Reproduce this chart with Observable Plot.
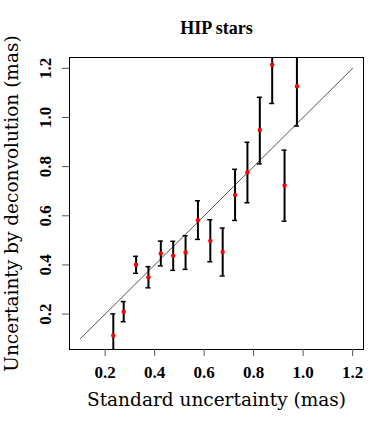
<!DOCTYPE html>
<html>
<head>
<meta charset="utf-8">
<script src="https://cdn.jsdelivr.net/npm/d3@7"></script>
<script src="https://cdn.jsdelivr.net/npm/@observablehq/plot@0.6"></script>
<style>
  html, body { margin: 0; padding: 0; background: #fff; }
  svg { display: block; }
</style>
</head>
<body>
<div id="chart"></div>
<script>
const title = "HIP stars";
const xLabel = "Standard uncertainty (mas)";
const yLabel = "Uncertainty by deconvolution (mas)";
const xTicks = [0.2, 0.4, 0.6, 0.8, 1.0, 1.2];
const yTicks = [0.2, 0.4, 0.6, 0.8, 1.0, 1.2];
const xVals = [0.233, 0.275, 0.325, 0.375, 0.425, 0.475, 0.525, 0.575, 0.625, 0.675, 0.725, 0.775, 0.825, 0.875, 0.925, 0.975];
const yVals = [0.113, 0.210, 0.401, 0.350, 0.447, 0.438, 0.451, 0.582, 0.498, 0.453, 0.685, 0.777, 0.949, 1.215, 0.723, 1.127];
const yLow  = [0.025, 0.169, 0.366, 0.307, 0.396, 0.378, 0.382, 0.504, 0.413, 0.355, 0.581, 0.653, 0.811, 1.057, 0.578, 0.965];
const yHigh = [0.201, 0.251, 0.435, 0.393, 0.497, 0.496, 0.519, 0.661, 0.584, 0.550, 0.789, 0.899, 1.082, 1.373, 0.867, 1.289];
const diagX = [0.1, 1.2];
const diagY = [0.1, 1.2];

const data = xVals.map((x, i) => ({x, y: yVals[i], lo: yLow[i], hi: yHigh[i]}));
const diag = diagX.map((x, i) => ({x, y: diagY[i]}));
const caps = data.flatMap(d => [{x: d.x, y: d.lo}, {x: d.x, y: d.hi}]);

const tickFont = "'Liberation Serif', 'Times New Roman', serif";
const labelFont = "'DejaVu Serif', serif";

const chart = Plot.plot({
  width: 377,
  height: 422,
  marginLeft: 69,
  marginRight: 14,
  marginTop: 57,
  marginBottom: 73,
  x: {domain: [0.056, 1.244]},
  y: {domain: [0.056, 1.244]},
  style: {background: "white", color: "black"},
  marks: [
    Plot.line(diag, {x: "x", y: "y", stroke: "#555", strokeWidth: 1}),
    Plot.ruleX(data, {x: "x", y1: "lo", y2: "hi", stroke: "black", strokeWidth: 2, clip: true}),
    Plot.ruleY(caps, {x1: "x", x2: "x", y: "y", insetLeft: -2.5, insetRight: -2.5, stroke: "black", strokeWidth: 1.5, clip: true}),
    Plot.dot(data, {x: "x", y: "y", r: 2.2, fill: "red", stroke: "none"}),
    Plot.frame({stroke: "black", strokeWidth: 1}),
    Plot.axisX({ticks: xTicks, tickSize: 7, tickFormat: () => "", label: null, stroke: "#555"}),
    Plot.axisY({ticks: yTicks, tickSize: 7, tickFormat: () => "", label: null, stroke: "#555"}),
    Plot.text(xTicks, {x: d => d, text: d => d.toFixed(1), frameAnchor: "bottom", textAnchor: "middle", lineAnchor: "bottom", dy: 28, fontFamily: tickFont, fontWeight: "bold", fontSize: 17, fill: "black"}),
    Plot.text(yTicks, {y: d => d, text: d => d.toFixed(1), frameAnchor: "left", textAnchor: "middle", lineAnchor: "bottom", rotate: -90, dx: -19, fontFamily: tickFont, fontWeight: "bold", fontSize: 17, fill: "black"}),
    Plot.text([xLabel], {text: d => d, frameAnchor: "bottom", textAnchor: "middle", lineAnchor: "bottom", dy: 56, fontFamily: labelFont, fontSize: 18.5, fill: "black"}),
    Plot.text([yLabel], {text: d => d, frameAnchor: "left", textAnchor: "middle", lineAnchor: "bottom", rotate: -90, dx: -52, fontFamily: labelFont, fontSize: 18.5, fill: "black"}),
    Plot.text([title], {text: d => d, frameAnchor: "top", textAnchor: "middle", lineAnchor: "bottom", dy: -24, fontFamily: tickFont, fontWeight: "bold", fontSize: 18, fill: "black"})
  ]
});
document.getElementById("chart").appendChild(chart);
</script>
</body>
</html>
